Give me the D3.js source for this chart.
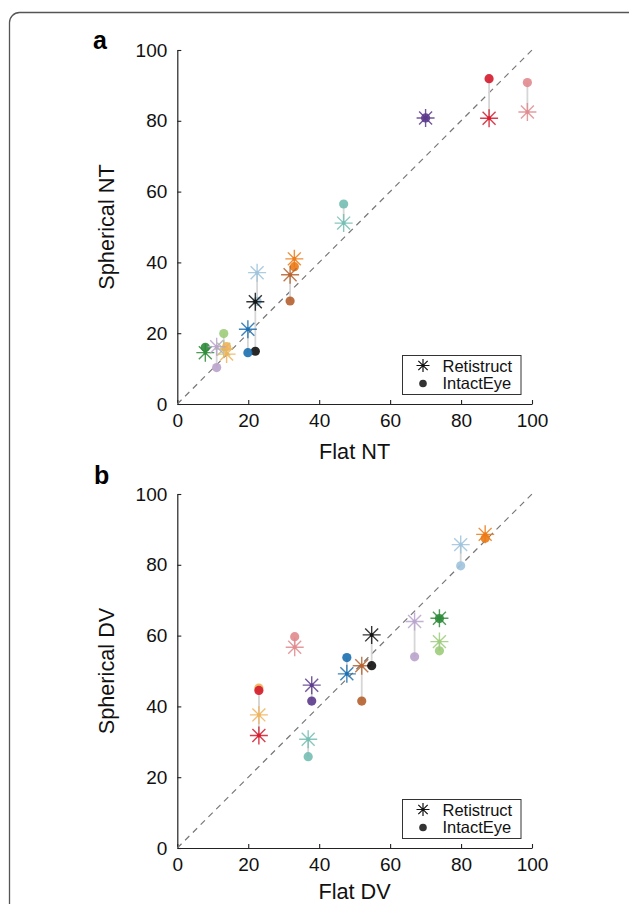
<!DOCTYPE html>
<html>
<head>
<meta charset="utf-8">
<script src="https://cdn.jsdelivr.net/npm/d3@7"></script>
<style>
  html, body { margin: 0; padding: 0; background: #fff; }
  svg { display: block; font-family: "Liberation Sans", Arial, sans-serif; }
</style>
</head>
<body>
<svg id="chart" width="629" height="904"></svg>
<script>
// ---- Data ----
const specimenColors = ["#74bdb3", "#ec7a14", "#b5612d", "#9ec3dc", "#111111", "#1a6faf",
                        "#2e8b3a", "#9ccc7a", "#f0b35a", "#b9a3cc", "#5b3a8c", "#d4192b", "#e08a8d"];

const flatNT            = [46.9, 33.0, 31.8, 22.5, 22.0, 19.9, 7.9, 13.1, 13.9, 11.1, 70.0, 87.9, 98.7];
const sphericalNT_retis = [51.1, 41.0, 36.5, 37.1, 28.9, 21.1, 14.5, 15.5, 14.1, 16.2, 80.8, 80.7, 82.5];
const sphericalNT_eye   = [56.5, 38.8, 29.1, 29.0, 14.9, 14.5, 16.0, 19.9, 16.2, 10.3, 80.8, 91.9, 90.8];

const flatDV            = [36.9, 86.8, 52.0, 79.9, 54.8, 47.8, 73.9, 73.9, 23.0, 66.9, 37.9, 23.0, 33.1];
const sphericalDV_retis = [30.7, 88.6, 51.5, 85.7, 60.2, 49.2, 64.9, 58.3, 37.6, 64.0, 46.0, 31.8, 56.7];
const sphericalDV_eye   = [25.8, 87.5, 41.5, 79.7, 51.5, 53.8, 64.8, 55.7, 45.2, 54.0, 41.5, 44.5, 59.7];

const tickValues = [0, 20, 40, 60, 80, 100];
const legendLabels = ["Retistruct", "IntactEye"];

// ---- Drawing ----
const svg = d3.select("#chart");

svg.append("rect")
  .attr("x", 9.5).attr("y", 12.5).attr("width", 700).attr("height", 1000)
  .attr("rx", 10).attr("fill", "none").attr("stroke", "#555").attr("stroke-width", 1.3);

function starPath(cx, cy, r) {
  const d = r * 0.72;
  return `M${cx - r},${cy}L${cx + r},${cy}M${cx},${cy - r}L${cx},${cy + r}` +
         `M${cx - d},${cy - d}L${cx + d},${cy + d}M${cx - d},${cy + d}L${cx + d},${cy - d}`;
}

function panel(cfg) {
  const x = d3.scaleLinear().domain([0, 100]).range([177.3, 532]);
  const y = d3.scaleLinear().domain([0, 100]).range([cfg.bottom, cfg.top]);
  const g = svg.append("g");

  // panel letter
  svg.append("text").attr("x", cfg.letterX).attr("y", cfg.letterY)
    .attr("font-size", 25).attr("font-weight", "bold").text(cfg.letter);

  // axes
  const xa = g.append("g").attr("transform", `translate(0,${cfg.bottom})`)
    .call(d3.axisBottom(x).tickValues(tickValues).tickSizeInner(-4).tickSizeOuter(0).tickPadding(9.5));
  const ya = g.append("g").attr("transform", `translate(177.3,0)`)
    .call(d3.axisLeft(y).tickValues(tickValues).tickSizeInner(-4).tickSizeOuter(0).tickPadding(10));
  [xa, ya].forEach(a => {
    a.selectAll("path").attr("stroke", "#222").attr("stroke-width", 1.2);
    a.selectAll("line").attr("stroke", "#222").attr("stroke-width", 1.1);
    a.selectAll("text").attr("font-size", 19).attr("fill", "#111")
      .attr("font-family", '"Liberation Sans", Arial, sans-serif');
  });

  // axis titles
  g.append("text").attr("x", 354.6).attr("y", cfg.bottom + cfg.titleOffset)
    .attr("text-anchor", "middle").attr("font-size", 21.7).attr("fill", "#111").text(cfg.xLabel);
  g.append("text").attr("transform", `translate(114,${(cfg.top + cfg.bottom) / 2}) rotate(-90)`)
    .attr("text-anchor", "middle").attr("font-size", 21.7).attr("fill", "#111").text(cfg.yLabel);

  // diagonal
  g.append("line")
    .attr("x1", x(0)).attr("y1", y(0)).attr("x2", x(100)).attr("y2", y(100))
    .attr("stroke", "#777").attr("stroke-width", 1.2).attr("stroke-dasharray", "6,5");

  const idx = d3.range(cfg.flat.length);

  // connecting lines
  g.selectAll(".conn").data(idx).enter().append("line")
    .attr("x1", i => x(cfg.flat[i])).attr("x2", i => x(cfg.flat[i]))
    .attr("y1", i => y(cfg.retis[i])).attr("y2", i => y(cfg.eye[i]))
    .attr("stroke", "#d6d6d6").attr("stroke-width", 1.8);

  idx.forEach(i => {
    const c = specimenColors[i];
    const px = x(cfg.flat[i]);
    g.append("path").attr("d", starPath(px, y(cfg.retis[i]), 9))
      .attr("stroke", c).attr("stroke-width", 1.4).attr("fill", "none").attr("opacity", 0.85);
    g.append("circle").attr("cx", px).attr("cy", y(cfg.retis[i])).attr("r", 2)
      .attr("fill", c).attr("opacity", 0.85);
    g.append("circle").attr("cx", px).attr("cy", y(cfg.eye[i])).attr("r", 4.6)
      .attr("fill", c).attr("opacity", 0.9);
  });

  // legend
  const lg = g.append("g");
  const lx = 402.5, ly = cfg.bottom - 48.5;
  lg.append("rect").attr("x", lx).attr("y", ly).attr("width", 118.5).attr("height", 39)
    .attr("fill", "#fff").attr("stroke", "#333").attr("stroke-width", 1);
  lg.append("path").attr("d", starPath(lx + 20.5, ly + 10, 6.5))
    .attr("stroke", "#111").attr("stroke-width", 1.2).attr("fill", "none");
  lg.append("circle").attr("cx", lx + 20.5).attr("cy", ly + 28).attr("r", 3.8).attr("fill", "#333");
  lg.selectAll(".lt").data(legendLabels).enter().append("text")
    .attr("x", lx + 40).attr("y", (d, i) => ly + 16 + i * 17.3)
    .attr("font-size", 16.5).attr("fill", "#111").text(d => d);
}

panel({ top: 50, bottom: 404, letter: "a", letterX: 93, letterY: 49, titleOffset: 55,
        xLabel: "Flat NT", yLabel: "Spherical NT",
        flat: flatNT, retis: sphericalNT_retis, eye: sphericalNT_eye });
panel({ top: 494, bottom: 848, letter: "b", letterX: 94, letterY: 484, titleOffset: 51,
        xLabel: "Flat DV", yLabel: "Spherical DV",
        flat: flatDV, retis: sphericalDV_retis, eye: sphericalDV_eye });
</script>
</body>
</html>
